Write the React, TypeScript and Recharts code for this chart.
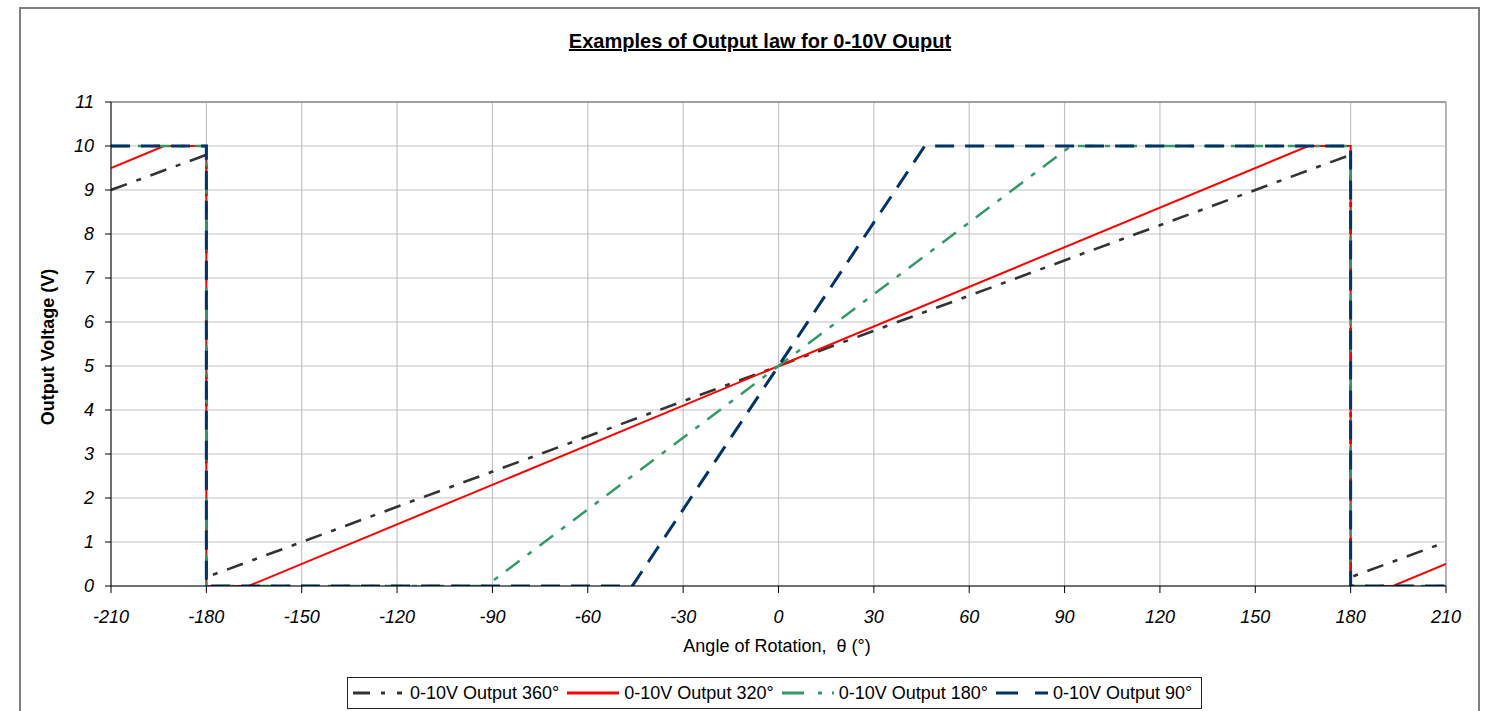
import React from "react";
import {
  LineChart,
  Line,
  XAxis,
  YAxis,
  CartesianGrid,
  Legend,
  ReferenceLine,
} from "recharts";

// axis ticks
const xTicks = [-210, -180, -150, -120, -90, -60, -30, 0, 30, 60, 90, 120, 150, 180, 210];
const yTicks = [0, 1, 2, 3, 4, 5, 6, 7, 8, 9, 10, 11];

// 360° law
const angles360 = [-210, -180, -180, 180, 180, 210];
const volts360 = [9.0, 9.8, 0.2, 9.8, 0.2, 1.0];

// 320° law
const angles320 = [-210, -193.3, -180, -180, -166.7, 166.7, 180, 180, 193.3, 210];
const volts320 = [9.5, 10, 10, 0, 0, 10, 10, 0, 0, 0.5];

// 180° law
const angles180 = [-210, -180, -180, -92, 92, 180, 180, 210];
const volts180 = [10, 10, 0, 0, 10, 10, 0, 0];

// 90° law
const angles90 = [-210, -180, -180, -46, 46, 180, 180, 210];
const volts90 = [10, 10, 0, 0, 10, 10, 0, 0];

const toPoints = (xs: number[], ys: number[]) =>
  xs.map((x, i) => ({ angle: x, volt: ys[i] }));

const SERIES = [
  {
    name: "0-10V Output 360°",
    data: toPoints(angles360, volts360),
    color: "#333333",
    width: 2.6,
    dash: "17 10 5 10",
    legendDash: "17 11 4 12 5 60",
  },
  {
    name: "0-10V Output 320°",
    data: toPoints(angles320, volts320),
    color: "#ff0000",
    width: 2,
    dash: undefined,
    legendDash: undefined,
  },
  {
    name: "0-10V Output 180°",
    data: toPoints(angles180, volts180),
    color: "#339966",
    width: 2.5,
    dash: "17 10 5 10",
    legendDash: "22 14 4 10 4 60",
  },
  {
    name: "0-10V Output 90°",
    data: toPoints(angles90, volts90),
    color: "#003366",
    width: 3,
    dash: "19 11",
    legendDash: "22 17 22 60",
  },
];

const FONT = "'Liberation Sans', Arial, sans-serif";

function LegendBox() {
  return (
    <div
      style={{
        boxSizing: "border-box",
        width: 855,
        height: 32,
        border: "1.5px solid #222",
        background: "#fff",
        display: "flex",
        alignItems: "center",
        paddingLeft: 5,
        fontSize: 18,
        fontFamily: FONT,
        color: "#000",
        whiteSpace: "nowrap",
      }}
    >
      {SERIES.map((s) => (
        <div key={s.name} style={{ display: "flex", alignItems: "center", marginRight: 8 }}>
          <svg width={52} height={10} style={{ marginRight: 5 }}>
            <line
              x1={0}
              y1={5}
              x2={52}
              y2={5}
              stroke={s.color}
              strokeWidth={3}
              strokeDasharray={s.legendDash}
            />
          </svg>
          <span>{s.name}</span>
        </div>
      ))}
    </div>
  );
}

export default function App() {
  return (
    <div
      style={{
        position: "absolute",
        left: 0,
        top: 0,
        width: 1492,
        height: 711,
        background: "#fff",
        fontFamily: FONT,
        overflow: "hidden",
      }}
    >
      {/* outer frame */}
      <div
        style={{
          position: "absolute",
          left: 19,
          top: 7,
          width: 1461,
          height: 730,
          border: "2px solid #7f7f7f",
          boxSizing: "border-box",
        }}
      />
      <div
        style={{
          position: "absolute",
          left: 0,
          width: 1520,
          top: 30,
          textAlign: "center",
          fontSize: 20,
          fontWeight: "bold",
          textDecoration: "underline",
          color: "#000",
        }}
      >
        Examples of Output law for 0-10V Ouput
      </div>
      <div
        style={{
          position: "absolute",
          left: 48,
          top: 347,
          transform: "translate(-50%, -50%) rotate(-90deg)",
          fontSize: 18,
          fontWeight: "bold",
          whiteSpace: "nowrap",
          color: "#000",
        }}
      >
        Output Voltage (V)
      </div>
      <div
        style={{
          position: "absolute",
          left: 777,
          top: 646,
          transform: "translate(-50%, -50%)",
          fontSize: 18,
          whiteSpace: "nowrap",
          color: "#000",
        }}
      >
        Angle of Rotation,&nbsp; θ (°)
      </div>
      <LineChart
        width={1492}
        height={711}
        margin={{ top: 102, right: 46, bottom: 85, left: 51 }}
      >
        <CartesianGrid stroke="#c4c4c4" strokeWidth={1.2} />
        <XAxis
          type="number"
          dataKey="angle"
          domain={[-210, 210]}
          ticks={xTicks}
          allowDataOverflow
          height={40}
          tickSize={7}
          tickMargin={17}
          stroke="#000"
          tick={{ fontSize: 18, fontStyle: "italic", fill: "#000" }}
        />
        <YAxis
          type="number"
          domain={[0, 11]}
          ticks={yTicks}
          allowDataOverflow
          width={60}
          tickSize={6}
          tickMargin={11}
          stroke="#000"
          tick={{ fontSize: 18, fontStyle: "italic", fill: "#000" }}
        />
        <ReferenceLine y={11} stroke="#888" strokeWidth={1.5} />
        <ReferenceLine x={210} stroke="#aaa" strokeWidth={1.5} />
        <Legend
          layout="horizontal"
          verticalAlign="middle"
          align="center"
          wrapperStyle={{ left: 347, top: 677, width: 855, height: 32 }}
          content={() => <LegendBox />}
        />
        {SERIES.map((s) => (
          <Line
            key={s.name}
            name={s.name}
            data={s.data}
            dataKey="volt"
            type="linear"
            stroke={s.color}
            strokeWidth={s.width}
            strokeDasharray={s.dash}
            dot={false}
            activeDot={false}
            isAnimationActive={false}
          />
        ))}
      </LineChart>
    </div>
  );
}
